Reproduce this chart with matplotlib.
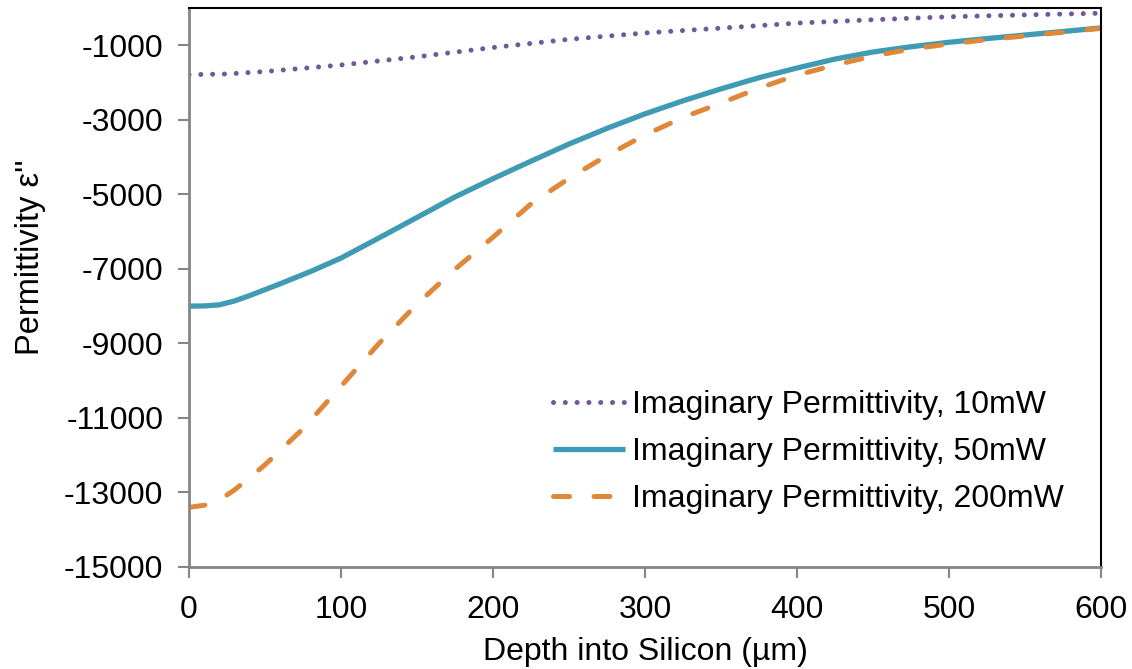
import matplotlib
matplotlib.use("Agg")
import matplotlib.pyplot as plt

# Data
depth_10 = [0, 25, 50, 100, 150, 200, 250, 300, 350, 400, 450, 500, 550, 600]
perm_10 = [-1790, -1770, -1705, -1530, -1310, -1060, -840, -670, -540, -405, -315, -235, -185, -140]

depth_50 = [0, 10, 20, 30, 40, 60, 80, 100, 125, 150, 175, 200, 225, 250, 275, 300,
            325, 350, 375, 400, 425, 450, 475, 500, 525, 550, 575, 600]
perm_50 = [-8000, -7995, -7965, -7860, -7715, -7400, -7070, -6710, -6170, -5620, -5070,
           -4580, -4110, -3650, -3230, -2840, -2490, -2170, -1870, -1610, -1370, -1180,
           -1040, -920, -820, -725, -630, -535]

depth_200 = [0, 12, 20, 30, 50, 75, 100, 125, 150, 175, 200, 225, 250, 275, 300, 325,
             350, 375, 400, 425, 450, 475, 500, 525, 550, 575, 600]
perm_200 = [-13400, -13330, -13200, -12930, -12258, -11290, -10150, -9000, -7945, -7010,
            -6150, -5257, -4570, -3958, -3408, -2937, -2550, -2150, -1800, -1530, -1290,
            -1100, -965, -850, -750, -650, -545]

labels = ["Imaginary Permittivity, 10mW", "Imaginary Permittivity, 50mW",
          "Imaginary Permittivity, 200mW"]
x_ticks = [0, 100, 200, 300, 400, 500, 600]
y_ticks = [-15000, -13000, -11000, -9000, -7000, -5000, -3000, -1000]

plt.rcParams['font.family'] = ['Liberation Sans', 'DejaVu Sans']

fig = plt.figure(figsize=(11.32, 6.69), dpi=100)
ax = fig.add_axes([189/1132, 1 - 567/669, (1101 - 189)/1132, (567 - 8)/669])

purple = '#70589A'
teal = '#3F9AB4'
orange = '#E0883A'

l1, = ax.plot(depth_10, perm_10, color=purple, lw=3.6, linestyle=(0, (0.01, 2.35)),
              dash_capstyle='round', label=labels[0])
l2, = ax.plot(depth_50, perm_50, color=teal, lw=3.8, solid_capstyle='butt',
              solid_joinstyle='round', label=labels[1])
l3, = ax.plot(depth_200, perm_200, color=orange, lw=3.6, linestyle=(0, (3.2, 4.9)),
              dash_capstyle='round', label=labels[2])

ax.set_xlim(0, 600)
ax.set_ylim(-15000, 0)
ax.set_xticks(x_ticks)
ax.set_yticks(y_ticks)
ax.set_xticklabels([str(v) for v in x_ticks])
ax.set_yticklabels([str(v) for v in y_ticks])

for side in ['left', 'bottom']:
    ax.spines[side].set_color('#868686')
    ax.spines[side].set_linewidth(2.0)
for side in ['top', 'right']:
    ax.spines[side].set_color('black')
    ax.spines[side].set_linewidth(1.5)

FS = 23
ax.tick_params(axis='both', direction='out', length=8, width=1.5, color='#868686',
               labelsize=FS, labelcolor='black')
ax.tick_params(axis='x', pad=12)
ax.tick_params(axis='y', pad=10.5)

ax.set_xlabel('Depth into Silicon (µm)', fontsize=FS, labelpad=9)
ax.set_ylabel("Permittivity ε''", fontsize=23.5)
ax.yaxis.set_label_coords((46 - 189) / 912, (567 - 257.5) / 559)

leg = ax.legend(handles=[l1, l2, l3], loc='upper left',
                bbox_to_anchor=((553 - 189) / 912, (567 - 390) / 559),
                frameon=False, fontsize=FS, handlelength=2.25, handletextpad=0.22,
                labelspacing=0.53, borderpad=0, borderaxespad=0)

fig.savefig('out.png', dpi=100)
